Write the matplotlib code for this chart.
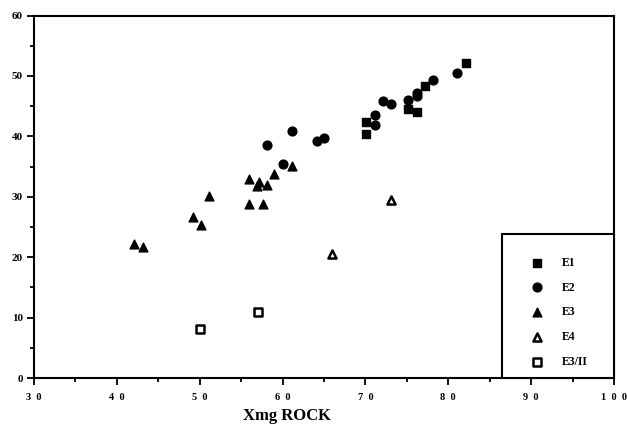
import numpy as np
import matplotlib
matplotlib.use("Agg")
import matplotlib.pyplot as plt
from matplotlib.patches import Rectangle
from matplotlib.ticker import MultipleLocator, FixedLocator, FixedFormatter

# data (Xmg ROCK vs y)
E1_x = [70.1, 70.1, 75.1, 76.2, 77.2, 82.1]
E1_y = [42.4, 40.4, 44.6, 44.1, 48.4, 52.1]

E2_x = [58.1, 60.0, 61.1, 64.1, 65.0, 71.2, 71.2, 72.1, 73.1, 75.1, 76.2, 76.2, 78.1, 81.0]
E2_y = [38.5, 35.4, 40.9, 39.3, 39.7, 43.6, 41.8, 45.8, 45.3, 46.0, 47.1, 46.6, 49.4, 50.5]

E3_x = [42.1, 43.1, 49.2, 50.1, 51.1, 56.0, 57.1, 56.9, 58.1, 59.0, 61.1, 56.0, 57.6]
E3_y = [22.2, 21.7, 26.6, 25.3, 30.1, 33.0, 32.5, 31.8, 32.0, 33.7, 35.1, 28.8, 28.8]

E4_x = [66.0, 73.1]
E4_y = [20.6, 29.4]

E3II_x = [50.0, 57.0]
E3II_y = [8.1, 11.0]

x_ticks = [30, 40, 50, 60, 70, 80, 90, 100]
x_tick_labels = ["3  0", "4  0", "5  0", "6  0", "7  0", "8  0", "9  0", "1  0  0"]
y_ticks = [0, 10, 20, 30, 40, 50, 60]

plt.rcParams["font.family"] = "Liberation Serif"
plt.rcParams["font.weight"] = "bold"

fig = plt.figure(figsize=(6.27, 4.25), dpi=100)
fig.subplots_adjust(left=34 / 627, right=614 / 627, bottom=1 - 378 / 425, top=1 - 15.5 / 425)
ax = fig.add_subplot(111)

ms = 34
ax.scatter(E1_x, E1_y, marker="s", s=ms, color="black", label="E1", zorder=3)
ax.scatter(E2_x, E2_y, marker="o", s=ms + 6, color="black", label="E2", zorder=3)
ax.scatter(E3_x, E3_y, marker="^", s=ms + 6, color="black", label="E3", zorder=3)
ax.scatter(E4_x, E4_y, marker="^", s=ms, facecolor="white", edgecolor="black",
           linewidth=1.8, label="E4", zorder=3)
ax.scatter(E3II_x, E3II_y, marker="s", s=ms - 6, facecolor="white", edgecolor="black",
           linewidth=1.8, label="E3/II", zorder=3)

ax.set_xlim(30, 100)
ax.set_ylim(0, 60)
ax.xaxis.set_major_locator(FixedLocator(x_ticks))
ax.xaxis.set_major_formatter(FixedFormatter(x_tick_labels))
ax.xaxis.set_minor_locator(MultipleLocator(5))
ax.yaxis.set_major_locator(FixedLocator(y_ticks))
ax.yaxis.set_minor_locator(MultipleLocator(5))
ax.tick_params(which="both", direction="out", width=1.3, labelsize=8)
ax.tick_params(which="major", length=5, pad=6)
ax.tick_params(which="minor", length=3)
ax.tick_params(axis="y", pad=3)
ax.tick_params(axis="x", labelsize=7.5)
for s in ax.spines.values():
    s.set_linewidth(1.5)

ax.set_xlabel("Xmg ROCK", fontsize=12, fontweight="bold", x=0.436, labelpad=4)

# legend box drawn as its own frame, legend entries placed inside
ax.add_patch(Rectangle((0.807, 0.0), 0.193, 0.397, transform=ax.transAxes,
                       facecolor="white", edgecolor="black", linewidth=1.5,
                       zorder=4, clip_on=False))
leg = ax.legend(loc="center left", bbox_to_anchor=(0.857, 0.181), borderaxespad=0,
                borderpad=0, frameon=False, fontsize=8.5,
                labelspacing=1.09, handletextpad=1.62,
                handlelength=1.0, scatterpoints=1)
leg.set_zorder(5)

fig.savefig("out.png", dpi=100)
